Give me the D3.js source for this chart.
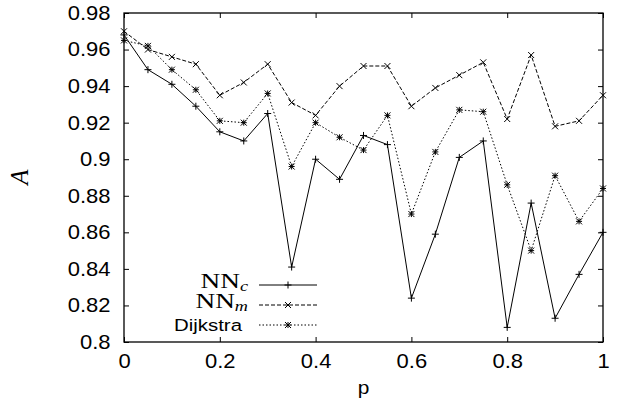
<!DOCTYPE html>
<html>
<head>
<meta charset="utf-8">
<script src="https://cdn.jsdelivr.net/npm/d3@7"></script>
<style>
  body { margin: 0; background: #fff; }
  svg { display: block; }
  .axis text { font-family: "Liberation Sans", Arial, sans-serif; font-size: 20px; fill: #000; }
  .axis path { display: none; }
  .axis line { stroke: #000; }
</style>
</head>
<body>
<div id="container"></div>
<script>
/* DATA */
const pValues = [0, 0.05, 0.1, 0.15, 0.2, 0.25, 0.3, 0.35, 0.4, 0.45, 0.5,
  0.55, 0.6, 0.65, 0.7, 0.75, 0.8, 0.85, 0.9, 0.95, 1];
const nnc = [0.968, 0.949, 0.941, 0.929, 0.915, 0.910, 0.925, 0.841, 0.900, 0.889, 0.913,
  0.908, 0.824, 0.859, 0.901, 0.910, 0.808, 0.876, 0.813, 0.837, 0.860];
const nnm = [0.970, 0.960, 0.956, 0.952, 0.935, 0.942, 0.952, 0.931, 0.924, 0.940, 0.951,
  0.951, 0.929, 0.939, 0.946, 0.953, 0.922, 0.957, 0.918, 0.921, 0.935];
const dijkstra = [0.965, 0.962, 0.949, 0.938, 0.921, 0.920, 0.936, 0.896, 0.920, 0.912, 0.905,
  0.924, 0.870, 0.904, 0.927, 0.926, 0.886, 0.850, 0.891, 0.866, 0.884];
const xTicks = [0, 0.2, 0.4, 0.6, 0.8, 1];
const yTicks = [0.8, 0.82, 0.84, 0.86, 0.88, 0.9, 0.92, 0.94, 0.96, 0.98];

const width = 618;
const height = 410;
const margin = { left: 124, right: 15, top: 13, bottom: 68 };
// the reference glyphs are a bit wider than the fonts we have
const stretch = 1.1;

const svg = d3.select("#container").append("svg")
  .attr("width", width)
  .attr("height", height);

/* SCALES */
const xScale = d3.scaleLinear()
  .domain([0, 1])
  .range([margin.left, width - margin.right]);

const yScale = d3.scaleLinear()
  .domain([0.8, 0.98])
  .range([height - margin.bottom, margin.top]);

/* AXES: ticks point inward on all four sides */
svg.append("g").attr("class", "axis")
  .attr("transform", `translate(0, ${height - margin.bottom})`)
  .call(d3.axisBottom(xScale).tickValues(xTicks).tickSize(-5).tickPadding(12)
    .tickFormat(d => d3.format("")(d)))
  .selectAll("text").attr("transform", `scale(${stretch},1)`);

svg.append("g").attr("class", "axis")
  .attr("transform", `translate(0, ${margin.top})`)
  .call(d3.axisTop(xScale).tickValues(xTicks).tickSize(-5).tickFormat(""));

svg.append("g").attr("class", "axis")
  .attr("transform", `translate(${margin.left}, 0)`)
  .call(d3.axisLeft(yScale).tickValues(yTicks).tickSize(-5).tickPadding(13.5 / stretch)
    .tickFormat(d => d3.format("")(+d.toFixed(2))))
  .selectAll("text").attr("transform", `scale(${stretch},1)`);

svg.append("g").attr("class", "axis")
  .attr("transform", `translate(${width - margin.right}, 0)`)
  .call(d3.axisRight(yScale).tickValues(yTicks).tickSize(-5).tickFormat(""));

// frame
svg.append("rect")
  .attr("x", xScale(0))
  .attr("y", yScale(0.98))
  .attr("width", xScale(1) - xScale(0))
  .attr("height", yScale(0.8) - yScale(0.98))
  .attr("fill", "none")
  .attr("stroke", "#000")
  .attr("stroke-width", 1.3);

/* SERIES */
const series = [
  { name: "NNc", values: nnc, dash: null, marker: "plus" },
  { name: "NNm", values: nnm, dash: "4,2", marker: "cross" },
  { name: "Dijkstra", values: dijkstra, dash: "1.5,2", marker: "star" }
];

function markerPath(type, s) {
  const plus = `M${-s},0H${s}M0,${-s}V${s}`;
  const cross = `M${-s},${-s}L${s},${s}M${-s},${s}L${s},${-s}`;
  if (type === "plus") return plus;
  if (type === "cross") return cross;
  return plus + cross;
}

const line = d3.line()
  .x((d, i) => xScale(pValues[i]))
  .y(d => yScale(d));

series.forEach(s => {
  svg.append("path")
    .attr("d", line(s.values))
    .attr("fill", "none")
    .attr("stroke", "#000")
    .attr("stroke-width", 1)
    .attr("stroke-dasharray", s.dash);

  svg.selectAll(null)
    .data(s.values)
    .join("path")
    .attr("transform", (d, i) => `translate(${xScale(pValues[i])}, ${yScale(d)})`)
    .attr("d", markerPath(s.marker, s.marker === "plus" ? 3.5 : 3))
    .attr("fill", "none")
    .attr("stroke", "#000")
    .attr("stroke-width", 1);
});

/* LEGEND */
const legendY = [285, 305, 325];
const legend = svg.append("g");

series.forEach((s, i) => {
  const y = legendY[i];
  legend.append("line")
    .attr("x1", 259).attr("x2", 317)
    .attr("y1", y).attr("y2", y)
    .attr("stroke", "#000")
    .attr("stroke-width", 1)
    .attr("stroke-dasharray", s.dash);
  legend.append("path")
    .attr("transform", `translate(288, ${y})`)
    .attr("d", markerPath(s.marker, s.marker === "plus" ? 3.5 : 3))
    .attr("fill", "none")
    .attr("stroke", "#000");
});

function nnLabel(y, sub) {
  const t = legend.append("text")
    .attr("transform", `translate(248, ${y}) scale(1.3,1)`)
    .attr("text-anchor", "end")
    .style("font-family", "'Liberation Serif', 'Times New Roman', serif")
    .style("font-size", "21px");
  t.append("tspan").text("NN");
  t.append("tspan")
    .attr("dy", 3)
    .style("font-style", "italic")
    .style("font-size", "14px")
    .text(sub);
}
nnLabel(288, "c");
nnLabel(308, "m");

legend.append("text")
  .attr("transform", "translate(242, 331) scale(1.2,1)")
  .attr("text-anchor", "end")
  .style("font-family", "'Liberation Sans', Arial, sans-serif")
  .style("font-size", "17px")
  .text("Dijkstra");

/* AXIS LABELS */
svg.append("text")
  .attr("transform", `translate(${(xScale(0) + xScale(1)) / 2}, 394) scale(${stretch},1)`)
  .attr("text-anchor", "middle")
  .style("font-family", "'Liberation Sans', Arial, sans-serif")
  .style("font-size", "19px")
  .text("p");

svg.append("text")
  .attr("transform", `translate(28, 177) rotate(-90)`)
  .attr("text-anchor", "middle")
  .style("font-family", "'Liberation Serif', 'Times New Roman', serif")
  .style("font-style", "italic")
  .style("font-size", "25px")
  .text("A");
</script>
</body>
</html>
